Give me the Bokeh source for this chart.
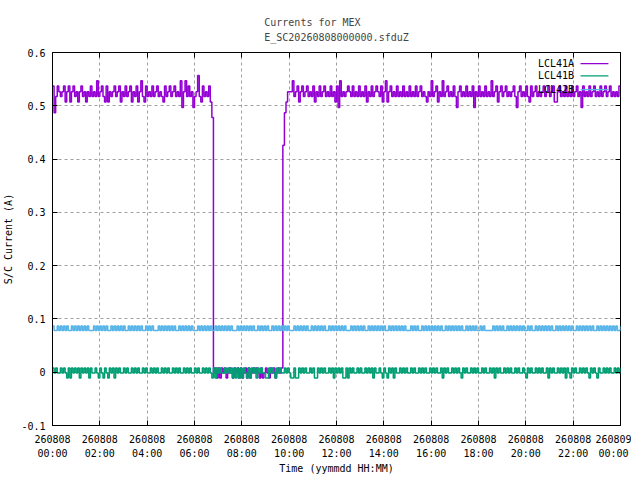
from bokeh.plotting import figure
from bokeh.models import Range1d, FixedTicker, LinearAxis, Label
from bokeh.embed import file_html
from bokeh.resources import INLINE

FONT = "DejaVu Sans Mono"
TITLE = "Currents for MEX\nE_SC20260808000000.sfduZ"
X_LABEL = "Time (yymmdd HH:MM)"
Y_LABEL = "S/C Current (A)"

x_ticks = [0, 2, 4, 6, 8, 10, 12, 14, 16, 18, 20, 22, 24]
x_tick_labels = ["260808\n00:00", "260808\n02:00", "260808\n04:00", "260808\n06:00",
                 "260808\n08:00", "260808\n10:00", "260808\n12:00", "260808\n14:00",
                 "260808\n16:00", "260808\n18:00", "260808\n20:00", "260808\n22:00",
                 "260809\n00:00"]
y_ticks = [-0.1, 0.0, 0.1, 0.2, 0.3, 0.4, 0.5, 0.6]
y_tick_labels = ["-0.1", "0", "0.1", "0.2", "0.3", "0.4", "0.5", "0.6"]

sample_minutes = 4  # one code per sample, starting 260808 00:00

series_names = ["LCL41A", "LCL41B", "LCL42B"]
series_colors = ["#9400d3", "#009e73", "#56b4e9"]

# quantised current levels (A)
lcl41a_levels = {"a": 0.5175, "b": 0.5265, "c": 0.537, "d": 0.547, "e": 0.557,
                 "z": 0.507, "y": 0.497, "x": 0.487, "m": 0.478, "k": 0.426,
                 "0": -0.0017, "1": 0.008, "n": -0.011}
lcl41a_codes = (
    "cxacbabczb" "czbcabzbca" "bzbacabada" "bcazczbabc" "abczbacabc"
    "zbaczbdazc" "abacabcaba" "zcabcabcab" "adybdacaby" "abeazcabac"
    "zm"
    "01n1n101n0" "10n101n1n0" "1n1n01010n" "1n010n101n" "0101"
    "kxz"
    "bbbdabczbcabcabaczbacabcabacabzc"
    "ydababcbac" "abacabaczb" "acabcbaczb" "dzbcabacab" "acabacabac"
    "abcabazbad" "abczbadabc" "abacaybcab" "acabacybac" "abacabadab"
    "czbcabcaba" "bcaybcabac" "azcabcabab" "cabcabczzb" "cabacabaca"
    "bcabycabac" "abcabacabc" "abcababacc"
)

lcl41b_levels = {"0": -0.0017, "1": 0.008, "n": -0.011}
lcl41b_codes = (
    "101001010n" "1n10101n10" "101n10010n" "10n10n101n" "1010010100"
    "1010100101" "0010101001" "0101001010" "1001010100" "1010010101"
    "0n1n101001" "0101n1n1n1" "n10n1n101n" "10100nn101" "0n10100101"
    "0nn1nn1010" "100101nn10" "10100101n1" "0101nn1n10" "1001010010"
    "101n10010n" "10n101n100" "1010100101" "0010101001" "0101001n10"
    "100101010n" "1010010101" "0010100101" "n101001010" "1001010010"
    "n101001010" "1001n10100" "10101n10n1" "0100101010" "n1010n1001"
    "0101001010" "1"
)

lcl42b_levels = {"0": 0.0785, "1": 0.0866}
lcl42b_codes = (
    "1001010101" "0010101010" "1010001010" "1010100101" "0101010010"
    "1010101001" "0101000101" "0101010100" "1010101010" "0010101010"
    "1001010101" "0101000101" "0101010100" "1010101001" "0101010101"
    "0001010101" "0100101010" "1010010101" "0101010001" "0101010100"
    "1010101010" "1001010101" "0101000101" "0100101010" "1010101001"
    "0101010101" "0010101010" "0101000001" "0101010010" "1010101010"
    "0101001010" "1010101001" "0101010101" "0010101010" "1010010101"
    "0101010100" "1"
)

series_levels = [lcl41a_levels, lcl41b_levels, lcl42b_levels]
series_codes = [lcl41a_codes, lcl41b_codes, lcl42b_codes]

p = figure(frame_width=568, frame_height=373,
           x_range=Range1d(0, 24), y_range=Range1d(-0.1, 0.6),
           output_backend="svg", toolbar_location=None,
           min_border_left=49, min_border_right=11,
           min_border_top=52, min_border_bottom=47,
           background_fill_color="white", border_fill_color="white")

p.outline_line_color = "black"
p.outline_line_width = 1

p.title.text = TITLE
p.title.align = "center"
p.title.text_font = FONT
p.title.text_font_size = "10px"
p.title.text_font_style = "normal"
p.title.text_line_height = 1.35
p.title.standoff = 19

for ax in (p.xaxis[0], p.yaxis[0]):
    ax.major_label_text_font = FONT
    ax.major_label_text_font_size = "10px"
    ax.axis_label_text_font = FONT
    ax.axis_label_text_font_size = "10px"
    ax.axis_label_text_font_style = "normal"
    ax.major_tick_in = 5
    ax.major_tick_out = 0
    ax.minor_tick_line_color = None
    ax.axis_line_color = "black"
    ax.major_label_text_color = "black"
    ax.axis_label_text_color = "black"

p.xaxis.ticker = FixedTicker(ticks=x_ticks)
p.xaxis.major_label_overrides = dict(zip(x_ticks, x_tick_labels))
p.xaxis.major_label_text_line_height = 1.3
p.xaxis.major_label_standoff = 8
p.xaxis.axis_label = X_LABEL
p.xaxis.axis_label_standoff = 1

p.yaxis.ticker = FixedTicker(ticks=y_ticks)
p.yaxis.major_label_overrides = dict(zip(y_ticks, y_tick_labels))
p.yaxis.major_label_standoff = 7
p.yaxis.axis_label = Y_LABEL
p.yaxis.axis_label_standoff = 4

# mirrored tick marks on top and right (no labels)
right_ax = LinearAxis(ticker=FixedTicker(ticks=y_ticks),
                      major_label_overrides={t: "" for t in y_ticks},
                      major_label_standoff=0, major_tick_in=5, major_tick_out=0,
                      minor_tick_line_color=None, axis_line_color=None)
top_ax = LinearAxis(ticker=FixedTicker(ticks=x_ticks),
                    major_label_overrides={t: "" for t in x_ticks},
                    major_label_standoff=0, major_tick_in=5, major_tick_out=0,
                    minor_tick_line_color=None, axis_line_color=None)
p.add_layout(right_ax, "right")
p.add_layout(top_ax, "above")

p.xgrid.ticker = FixedTicker(ticks=x_ticks)
p.ygrid.ticker = FixedTicker(ticks=y_ticks)
for g in (p.xgrid[0], p.ygrid[0]):
    g.grid_line_color = "#a0a0a0"
    g.grid_line_dash = "3 3"
    g.grid_line_width = 1

for name, color, levels, codes in zip(series_names, series_colors, series_levels, series_codes):
    t = [i * sample_minutes / 60.0 for i in range(len(codes))]
    v = [levels[c] for c in codes]
    p.step(t, v, mode="after", line_color=color, line_width=1.5)

# legend (gnuplot style: text then sample line), top right inside the frame
legend_text_x = 22.04
legend_line_x = [22.31, 23.49]
legend_rows_y = [0.5793, 0.556, 0.5305]
for name, color, ly in zip(series_names, series_colors, legend_rows_y):
    p.add_layout(Label(x=legend_text_x, y=ly, text=name, text_align="right",
                       text_baseline="middle", text_font=FONT, text_font_size="10px",
                       text_color="black"))
    p.line(legend_line_x, [ly, ly], line_color=color, line_width=1.3)

open("out.html", "w").write(file_html(p, INLINE))
